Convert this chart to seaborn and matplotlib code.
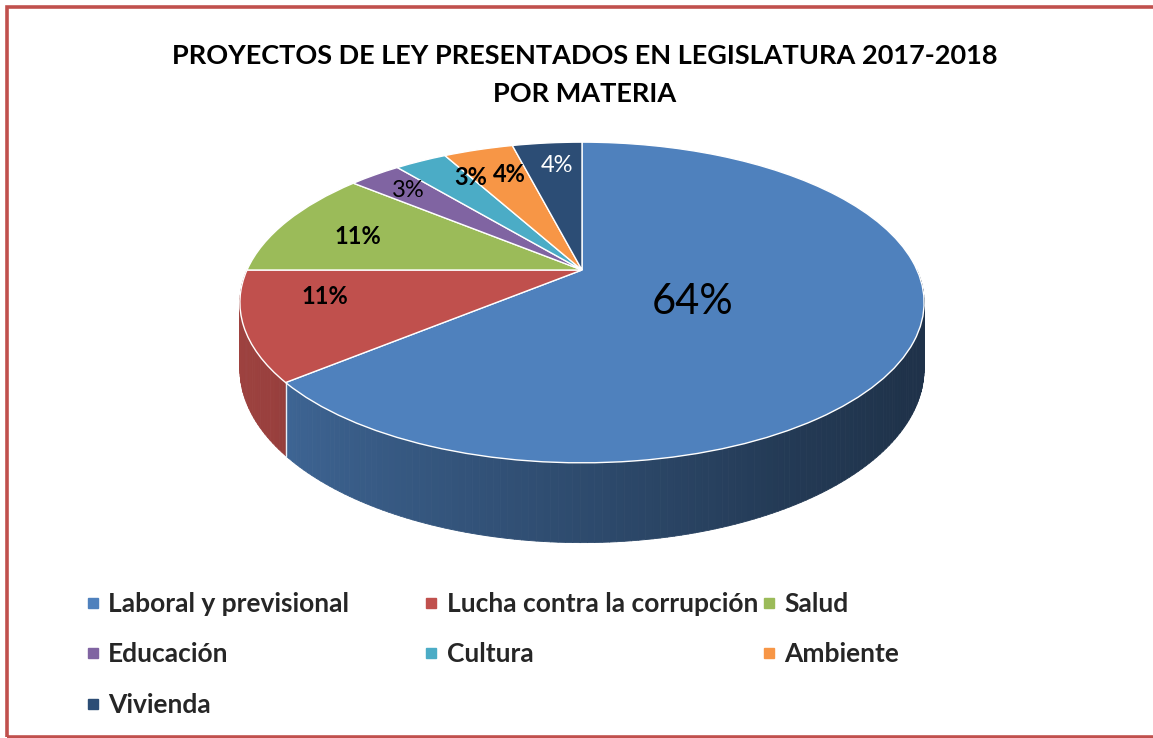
import numpy as np
import matplotlib
matplotlib.use("Agg")
import matplotlib.pyplot as plt
import matplotlib.transforms as mtransforms
from matplotlib.lines import Line2D
from matplotlib.patches import Rectangle
from matplotlib.collections import PolyCollection
import seaborn as sns

# data
materias = ["Laboral y previsional", "Lucha contra la corrupción", "Salud",
            "Educación", "Cultura", "Ambiente", "Vivienda"]
porcentajes = [64, 11, 11, 3, 3, 4, 4]
colores = ["#4f81bd", "#c0504d", "#9bbb59", "#8064a2", "#4bacc6", "#f79646", "#2c4d75"]
titulo = "PROYECTOS DE LEY PRESENTADOS EN LEGISLATURA 2017-2018\nPOR MATERIA"

sns.set_theme(style="white")
plt.rcParams["font.family"] = ["Lato", "DejaVu Sans"]

W, H = 1153, 738
fig = plt.figure(figsize=(W / 100, H / 100), dpi=100)
fig.patch.set_facecolor("white")

# tilt of the disc: K = perspective, A = vertical squash, C = thickness
K, A, C = 0.2025, 0.459, 0.190


class Tilt(mtransforms.Transform):
    input_dims = output_dims = 2

    def __init__(self, z=0.0):
        super().__init__()
        self.z = z

    def transform_non_affine(self, values):
        values = np.asarray(values, dtype=float)
        x, y = values[:, 0], values[:, 1]
        w = 1 + K * y
        return np.column_stack([x / w, (A * y + C * self.z) / w])


ax = fig.add_axes([0, 0, 1, 1])
wedges, _, autotexts = ax.pie(
    porcentajes, colors=sns.color_palette(colores), startangle=90, counterclock=False,
    autopct="%1.0f%%", pctdistance=0.78,
    wedgeprops=dict(edgecolor="white", linewidth=1.0, zorder=3))
ax.set_aspect("auto")
ax.set_xlim(-582 / 335, (W - 582) / 335)
ax.set_ylim(-(H - 270) / 335, 270 / 335)
ax.axis("off")

top_tr = Tilt(0.0)
bot_tr = Tilt(-1.0)
for wdg in wedges:
    wdg.set_transform(top_tr + ax.transData)

# side wall (front half only), shaded from left to right
knots_t = [180, 215, 240, 270, 300, 330, 360]
knots_f = [0.84, 0.80, 0.70, 0.58, 0.45, 0.39, 0.39]
for wdg, col in zip(wedges, colores):
    t1, t2 = wdg.theta1 % 360, wdg.theta2 % 360
    if t2 <= t1:
        t2 += 360
    lo, hi = max(t1, 180), min(t2, 360)
    if hi <= lo:
        continue
    ts = np.linspace(lo, hi, max(int(hi - lo), 2) + 1)
    pts = np.column_stack([np.cos(np.radians(ts)), np.sin(np.radians(ts))])
    up = top_tr.transform(pts)
    dn = bot_tr.transform(pts)
    base = np.array(matplotlib.colors.to_rgb(col))
    polys, fcs = [], []
    for i in range(len(ts) - 1):
        polys.append([up[i], up[i + 1], dn[i + 1], dn[i]])
        f = np.interp((ts[i] + ts[i + 1]) / 2, knots_t, knots_f)
        fcs.append(np.clip(base * f, 0, 1))
    ax.add_collection(PolyCollection(polys, facecolors=fcs, edgecolors=fcs,
                                     linewidths=0.6, zorder=1))
    if 180 < lo < 360:
        ax.plot([up[0, 0], dn[0, 0]], [up[0, 1], dn[0, 1]], color="#e8eef6",
                lw=1.0, zorder=2)

# percentage labels: radius and angle nudge per slice
label_r = [0.375, 0.76, 0.735, 0.82, 0.785, 0.755, 0.79]
label_da = [-7, -7, 2, 0, -5.5, -2.5, -1]
label_style = [
    dict(fontsize=30, fontweight="normal", color="black"),
    dict(fontsize=17, fontweight="bold", color="black"),
    dict(fontsize=17, fontweight="bold", color="black"),
    dict(fontsize=17, fontweight="normal", color="black"),
    dict(fontsize=17, fontweight="bold", color="black"),
    dict(fontsize=17, fontweight="bold", color="black"),
    dict(fontsize=17, fontweight="normal", color="white"),
]
for wdg, txt, r, da, st in zip(wedges, autotexts, label_r, label_da, label_style):
    mid = np.radians((wdg.theta1 + wdg.theta2) / 2 + da)
    txt.set_position((r * np.cos(mid), r * np.sin(mid)))
    txt.set_transform(top_tr + ax.transData)
    txt.set(zorder=4, **st)

fig.text(0.507, 1 - 75 / H, titulo, ha="center", va="center", fontsize=19.5,
         fontweight="bold", linespacing=1.73, color="black")

# legend, three columns filled row by row
col_x = [87, 425.5, 763.5]
for c in range(3):
    idx = list(range(c, len(materias), 3))
    handles = [Line2D([], [], marker="s", linestyle="", markersize=6.5,
                      color=colores[i]) for i in idx]
    fig.legend(handles, [materias[i] for i in idx], loc="upper left",
               bbox_to_anchor=(col_x[c] / W, 1 - 592 / H), frameon=False,
               prop=dict(family=["Lato", "DejaVu Sans"], weight="bold", size=19),
               handlelength=0.42, handletextpad=0.38, borderpad=0,
               borderaxespad=0, labelspacing=1.0)

# chart border
fig.patches.append(Rectangle((7 / W, 1 / H), 1.2, (H - 7.5) / H,
                             transform=fig.transFigure, fill=False,
                             edgecolor="#c0504d", linewidth=2.6))

fig.savefig("out.png", dpi=100)
